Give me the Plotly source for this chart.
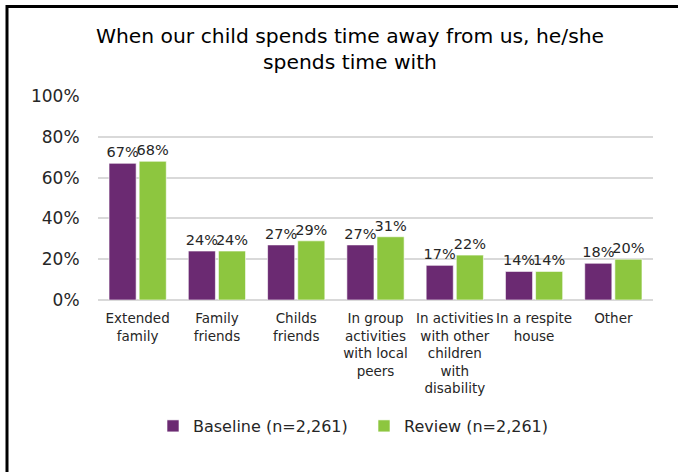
import plotly.graph_objects as go

# Survey categories and response shares (%)
categories = [
    "Extended<br>family",
    "Family<br>friends",
    "Childs<br>friends",
    "In group<br>activities<br>with local<br>peers",
    "In activities<br>with other<br>children<br>with<br>disability",
    "In a respite<br>house",
    "Other",
]
baseline = [67, 24, 27, 27, 17, 14, 18]
review = [68, 24, 29, 31, 22, 14, 20]
series_names = ["Baseline (n=2,261)", "Review (n=2,261)"]
y_ticks = [0, 20, 40, 60, 80, 100]

PURPLE = "#6B2A72"
GREEN = "#8DC63F"
TEXT = "#262626"
FONT = "DejaVu Sans, Liberation Sans, Arial, sans-serif"

W, H = 678, 472
ML, MR, MT, MB = 98, 25, 96, 172

fig = go.Figure()
for name, vals, col in [(series_names[0], baseline, PURPLE), (series_names[1], review, GREEN)]:
    fig.add_trace(go.Bar(
        x=categories, y=vals, name=name,
        marker=dict(color=col, line=dict(color="rgba(255,255,255,0.6)", width=1)),
        text=[f"{v}%" for v in vals], textposition="outside",
        constraintext="none",
        textfont=dict(size=14.5, color=TEXT, family=FONT),
        cliponaxis=False,
    ))

# frame lines along the top and left edges of the page
pw = W - ML - MR
ph = H - MT - MB
def px_to_paper_x(px):
    return (px - ML) / pw
def px_to_paper_y(py):
    return 1 - (py - MT) / ph

fig.add_shape(type="line", xref="paper", yref="paper",
              x0=px_to_paper_x(6), x1=px_to_paper_x(W + 2),
              y0=px_to_paper_y(6.5), y1=px_to_paper_y(6.5),
              line=dict(color="black", width=3))
fig.add_shape(type="line", xref="paper", yref="paper",
              x0=px_to_paper_x(7), x1=px_to_paper_x(7),
              y0=px_to_paper_y(5), y1=px_to_paper_y(H + 2),
              line=dict(color="black", width=3))

fig.update_layout(
    width=W, height=H,
    margin=dict(l=ML, r=MR, t=MT, b=MB, autoexpand=False),
    paper_bgcolor="white", plot_bgcolor="white",
    font=dict(family=FONT, color=TEXT),
    title=dict(
        text="When our child spends time away from us, he/she<br>spends time with",
        x=350 / W, xanchor="center", y=1 - 43 / H, yanchor="middle",
        font=dict(size=20.3, color="black", family=FONT),
    ),
    barmode="group", bargap=0.24, bargroupgap=0.1,
    legend=dict(
        orientation="h", x=px_to_paper_x(153), xanchor="left",
        y=1 - (426 - MT) / ph, yanchor="middle",
        font=dict(size=16, color=TEXT, family=FONT),
        itemwidth=30, traceorder="normal",
        entrywidth=166, entrywidthmode="pixels",
    ),
    showlegend=True,
)
fig.update_yaxes(
    range=[0, 100], tickvals=y_ticks, ticktext=[f"{v}%" for v in y_ticks],
    showgrid=True, gridcolor="#d9d9d9", gridwidth=1.5,
    zeroline=True, zerolinecolor="#d9d9d9", zerolinewidth=1.5,
    ticks="outside", ticklen=14, tickcolor="rgba(0,0,0,0)",
    tickfont=dict(size=17, color=TEXT, family=FONT),
    showline=False,
)
fig.update_xaxes(
    ticks="outside", ticklen=6, tickcolor="rgba(0,0,0,0)",
    tickfont=dict(size=13.5, color=TEXT, family=FONT),
    showline=False, tickangle=0,
)

fig.write_html("out.html")
